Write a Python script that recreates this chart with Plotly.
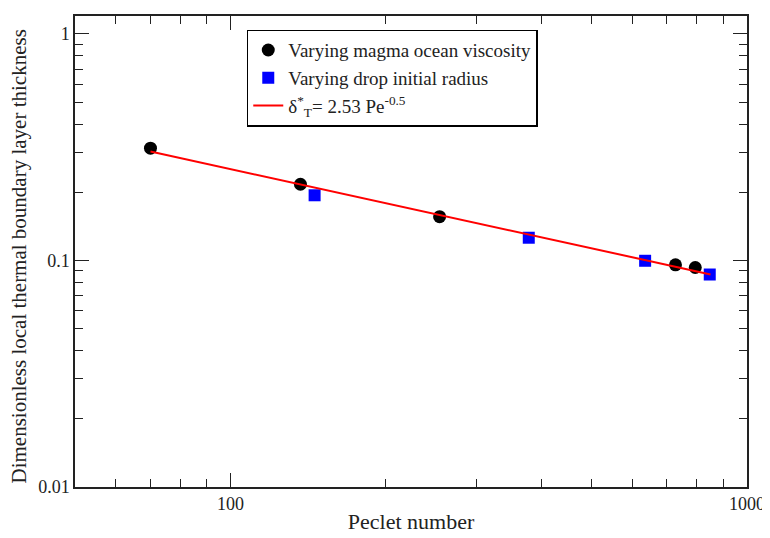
import plotly.graph_objects as go

# Data
visc_pe = [70.0, 136.6, 254.0, 727.0, 794.0]
visc_delta = [0.313, 0.217, 0.156, 0.0957, 0.0931]

radius_pe = [145.5, 378.0, 635.0, 847.0]
radius_delta = [0.194, 0.126, 0.0997, 0.0867]

fit_pe = [70.0, 850.0]
fit_delta = [0.3024, 0.0868]

x_major = [100, 1000]
x_major_text = ["100", "1000"]
x_minor = [60, 70, 80, 90, 200, 300, 400, 500, 600, 700, 800, 900]
y_major = [0.01, 0.1, 1]
y_major_text = ["0.01", "0.1", "1"]
y_minor = [0.02, 0.03, 0.04, 0.05, 0.06, 0.07, 0.08, 0.09,
           0.2, 0.3, 0.4, 0.5, 0.6, 0.7, 0.8, 0.9]

FONT = "Liberation Serif, Times New Roman, serif"
AXC = "#222222"

fig = go.Figure()
fig.add_trace(go.Scatter(
    x=visc_pe, y=visc_delta, mode="markers", name="Varying magma ocean viscosity",
    marker=dict(symbol="circle", size=13, color="black", line=dict(width=0))))
fig.add_trace(go.Scatter(
    x=radius_pe, y=radius_delta, mode="markers", name="Varying drop initial radius",
    marker=dict(symbol="square", size=12, color="#0000ff", line=dict(width=0))))
fig.add_trace(go.Scatter(
    x=fit_pe, y=fit_delta, mode="lines",
    name="δ<sup>*</sup><sub>T</sub>= 2.53 Pe<sup>-0.5</sup>",
    line=dict(color="#ff0000", width=2)))

axis_common = dict(
    type="log", showgrid=False, zeroline=False,
    showline=True, linecolor=AXC, linewidth=1.5, mirror="ticks",
    ticks="inside", ticklen=14, tickwidth=1.2, tickcolor=AXC,
    tickfont=dict(family=FONT, size=18, color=AXC),
)

fig.update_xaxes(
    **axis_common,
    range=[1.69897, 3.0],
    tickmode="array", tickvals=x_major, ticktext=x_major_text,
    minor=dict(tickmode="array", tickvals=x_minor, ticks="inside",
               ticklen=8, tickwidth=1.2, tickcolor=AXC, showgrid=False),
    title=dict(text="Peclet number", font=dict(family=FONT, size=22, color=AXC),
               standoff=0),
)
fig.update_yaxes(
    **axis_common,
    range=[-2.0, 0.0792],
    tickmode="array", tickvals=y_major, ticktext=y_major_text,
    minor=dict(tickmode="array", tickvals=y_minor, ticks="inside",
               ticklen=8, tickwidth=1.2, tickcolor=AXC, showgrid=False),
)

fig.add_annotation(
    text="Dimensionless local thermal boundary layer thickness",
    xref="paper", yref="paper", x=0, y=0.5, xanchor="center", yanchor="middle",
    xshift=-57, yshift=-5, textangle=-90, showarrow=False,
    font=dict(family=FONT, size=21, color=AXC),
)

# the page body adds an 8px offset, so the figure is sized to fit the window
fig.update_layout(
    width=762, height=530,
    margin=dict(l=67, r=23, t=8, b=51, autoexpand=False),
    paper_bgcolor="white", plot_bgcolor="white",
    font=dict(family=FONT, size=18, color=AXC),
    showlegend=True,
    legend=dict(
        x=0.2556, y=0.971, xanchor="left", yanchor="top",
        bgcolor="white", bordercolor="black", borderwidth=1.5,
        font=dict(family=FONT, size=19, color=AXC),
        tracegroupgap=0,
    ),
)

fig.write_html("out.html")
